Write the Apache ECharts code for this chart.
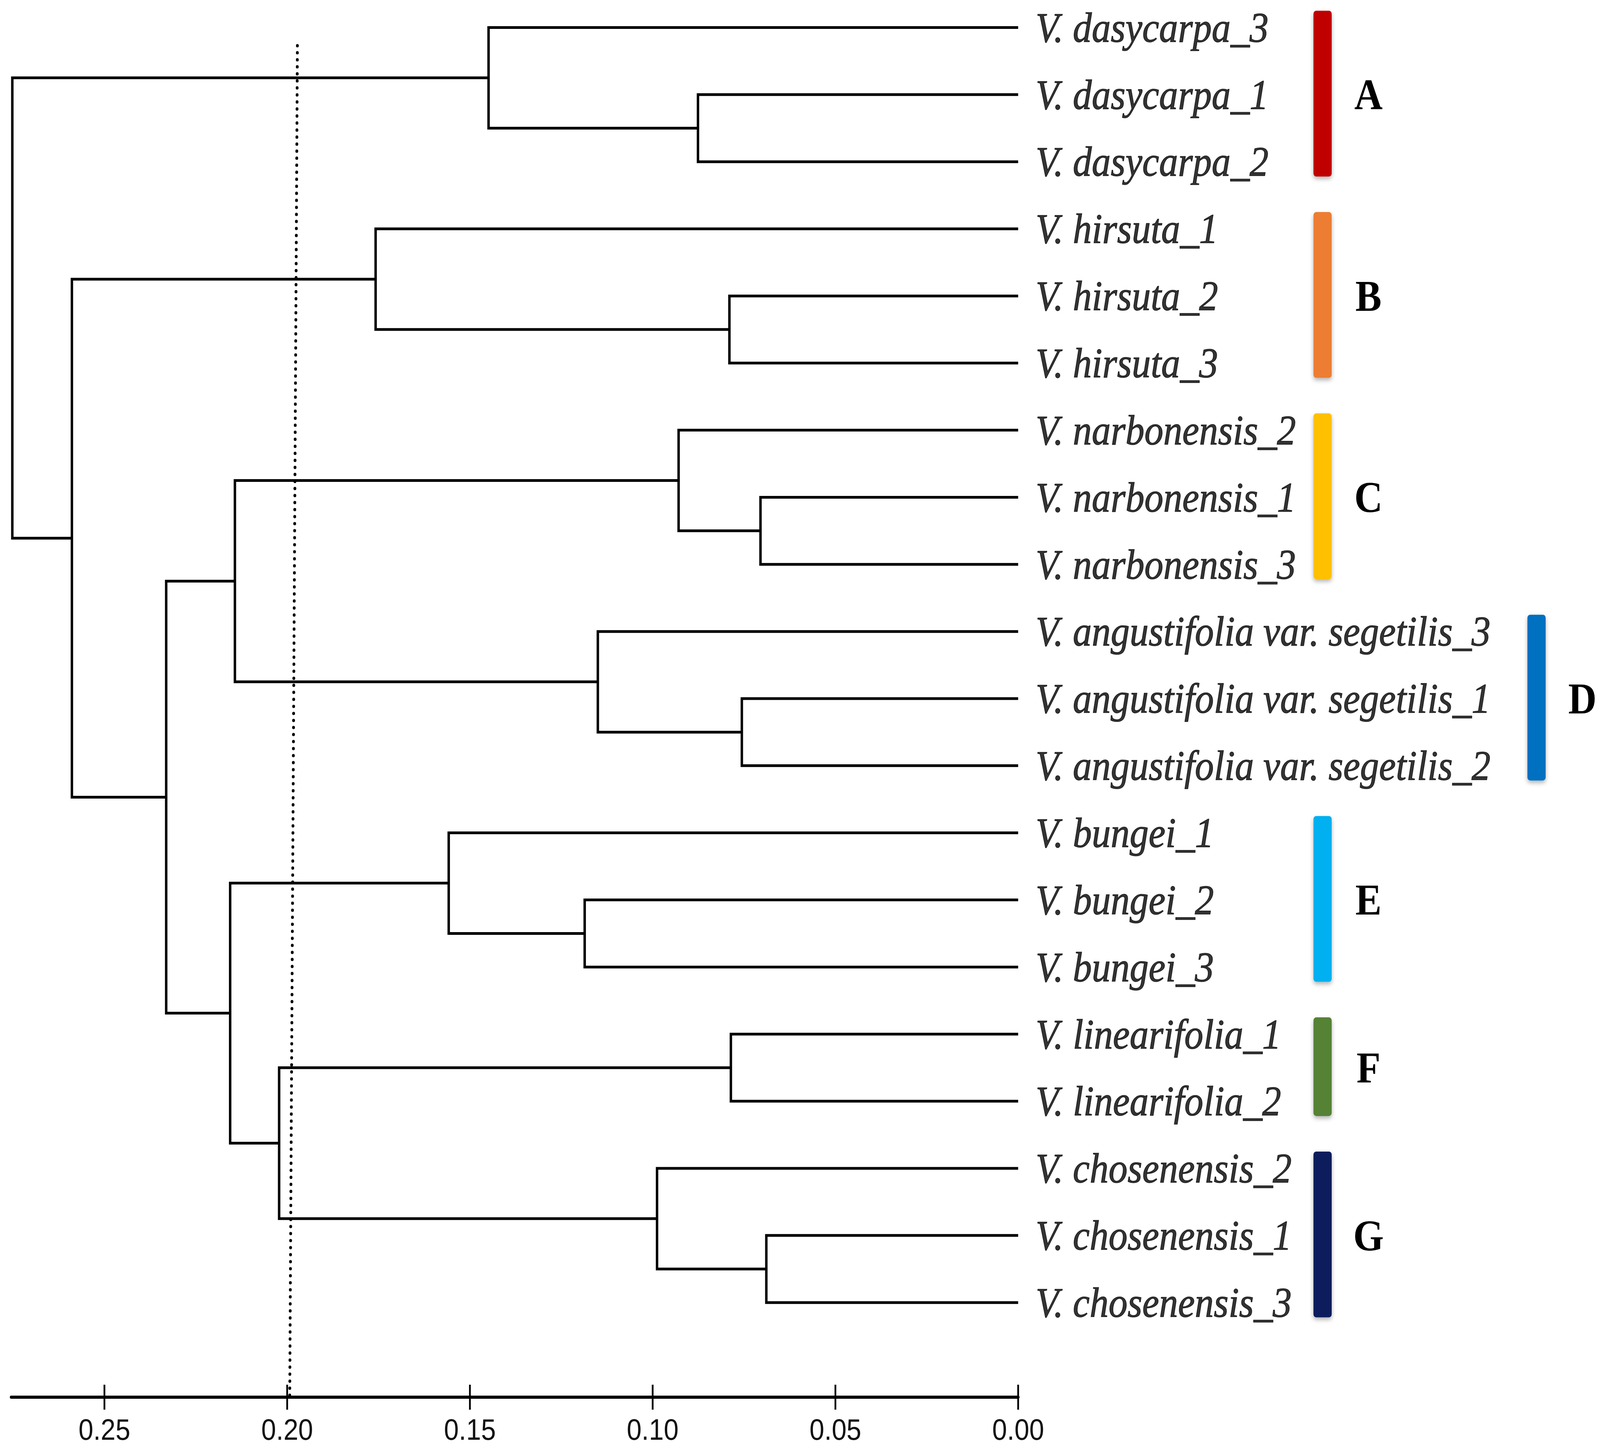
<!DOCTYPE html>
<html>
<head>
<meta charset="utf-8">
<title>Vicia UPGMA dendrogram</title>
<script src="https://cdn.jsdelivr.net/npm/echarts@6.0.0/dist/echarts.min.js"></script>
<style>
    html, body { margin: 0; padding: 0; background: #ffffff; overflow: hidden; }
    #chart { width: 4562px; height: 3703px; transform-origin: 0 0; }
</style>
</head>
<body>
<div id="chart"></div>
<script>
// leaves, top to bottom
var leaves = [
    'V. dasycarpa_3', 'V. dasycarpa_1', 'V. dasycarpa_2',
    'V. hirsuta_1', 'V. hirsuta_2', 'V. hirsuta_3',
    'V. narbonensis_2', 'V. narbonensis_1', 'V. narbonensis_3',
    'V. angustifolia var. segetilis_3', 'V. angustifolia var. segetilis_1', 'V. angustifolia var. segetilis_2',
    'V. bungei_1', 'V. bungei_2', 'V. bungei_3',
    'V. linearifolia_1', 'V. linearifolia_2',
    'V. chosenensis_2', 'V. chosenensis_1', 'V. chosenensis_3'
];

// merges: [child a, child b, height]; index < 20 is a leaf, 20 + k is the k-th merge
var merges = [
    [1, 2, 0.0876],    // 20
    [0, 20, 0.1449],   // 21  A
    [4, 5, 0.0790],    // 22
    [3, 22, 0.1758],   // 23  B
    [7, 8, 0.0705],    // 24
    [6, 24, 0.0929],   // 25  C
    [10, 11, 0.0756],  // 26
    [9, 26, 0.1150],   // 27  D
    [25, 27, 0.2143],  // 28
    [13, 14, 0.1186],  // 29
    [12, 29, 0.1558],  // 30  E
    [15, 16, 0.0786],  // 31  F
    [18, 19, 0.0689],  // 32
    [17, 32, 0.0988],  // 33  G
    [31, 33, 0.2022],  // 34
    [30, 34, 0.2156],  // 35
    [28, 35, 0.2331],  // 36
    [23, 36, 0.2589],  // 37
    [21, 37, 0.2752]   // 38  root
];

var tickValues = [0, 0.05, 0.10, 0.15, 0.20, 0.25];

// dotted cut line, height at top and at bottom (it leans a little)
var cutHeights = [0.1972, 0.1993];

// clusters
var groupNames = ['A', 'B', 'C', 'D', 'E', 'F', 'G'];
var groupFirst = [0, 3, 6, 9, 12, 15, 17];
var groupLast  = [2, 5, 8, 11, 14, 16, 19];

// styles
var groupColors = ['#c00000', '#ed7d31', '#ffc000', '#0070c0', '#00b0f0', '#548235', '#0a1f5c'];
var LINE_W = 7;
var LABEL_SIZE = 108;
var LABEL_FONT = 'italic ' + LABEL_SIZE + 'px "Liberation Serif"';
var LABEL_GAP = 50;
var BAR_COL = 842;      // bar left, from the 0.00 point
var BAR_W = 52;
var Y_MIN = -0.41, Y_MAX = 20.41;

// the layout is made for 4562 x 3703; squeeze it into whatever window we get
var el = document.getElementById('chart');
var kx = window.innerWidth / 4562, ky = window.innerHeight / 3703;
el.style.transform = 'scale(' + kx + ',' + ky + ')';

// build branch polylines from the merge table
var nodeY = leaves.map(function (d, i) { return i; });
var nodeH = leaves.map(function () { return 0; });
var branches = [];
merges.forEach(function (m) {
    var a = m[0], b = m[1], h = m[2];
    branches.push({
        coords: [[nodeH[a], nodeY[a]], [h, nodeY[a]], [h, nodeY[b]], [nodeH[b], nodeY[b]]]
    });
    nodeY.push((nodeY[a] + nodeY[b]) / 2);
    nodeH.push(h);
});

var ctx = document.createElement('canvas').getContext('2d');
ctx.font = LABEL_FONT;
function labelWidth(i) { return ctx.measureText(leaves[i]).width; }

var chart = echarts.init(el, null, { renderer: 'svg' });

var option = {
    backgroundColor: '#ffffff',
    animation: false,
    grid: { left: 32, right: 1659, top: 0, bottom: 125, containLabel: false, outerBoundsMode: 'none' },
    xAxis: {
        type: 'value', min: 0, max: 0.2755, inverse: true, position: 'bottom',
        axisLine: { show: true, onZero: false, lineStyle: { color: '#000', width: 8 } },
        axisTick: { show: false },
        axisLabel: {
            show: true, margin: 45, fontSize: 76, color: '#111',
            fontFamily: '"Liberation Sans", Arial, sans-serif',
            customValues: tickValues,
            formatter: function (v) { return v.toFixed(2); }
        },
        splitLine: { show: false }
    },
    yAxis: { type: 'value', min: Y_MIN, max: Y_MAX, inverse: true, show: false },
    series: [
        {
            type: 'lines',
            coordinateSystem: 'cartesian2d',
            polyline: true,
            silent: true,
            lineStyle: { color: '#000', width: LINE_W, opacity: 1, join: 'miter', cap: 'butt' },
            data: branches
        },
        {
            type: 'line',
            silent: true,
            showSymbol: false,
            lineStyle: { color: '#000', width: 8, type: [0.5, 17.5], cap: 'round' },
            data: [[cutHeights[0], 0.27], [cutHeights[1], Y_MAX]]
        },
        {
            // axis ticks crossing the axis line, one per tick value
            type: 'custom',
            clip: false,
            silent: true,
            z: 5,
            data: tickValues.map(function (v) { return [v, Y_MAX]; }),
            renderItem: function (params, api) {
                var p = api.coord([api.value(0), api.value(1)]);
                return {
                    type: 'line',
                    shape: { x1: p[0], y1: p[1] - 32, x2: p[0], y2: p[1] + 32 },
                    style: { stroke: '#000', lineWidth: 5 }
                };
            }
        },
        {
            type: 'scatter',
            symbolSize: 0,
            clip: false,
            silent: true,
            data: leaves.map(function (name, i) { return { name: name, value: [0, i] }; }),
            label: {
                show: true, position: 'right', distance: LABEL_GAP,
                formatter: '{b}', color: '#000',
                textBorderColor: '#000', textBorderWidth: 1.5,
                fontFamily: '"Liberation Serif", serif', fontStyle: 'italic', fontSize: LABEL_SIZE
            }
        },
        {
            type: 'custom',
            clip: false,
            silent: true,
            data: groupFirst.map(function (f, i) { return [0, f, groupLast[i]]; }),
            encode: { x: 0, y: 1 },
            renderItem: function (params, api) {
                var g = params.dataIndex;
                var x0 = api.coord([0, 0])[0];
                var widest = 0;
                for (var i = groupFirst[g]; i <= groupLast[g]; i++) widest = Math.max(widest, labelWidth(i));
                // labels that run past the common column push their bar further out
                var left = x0 + BAR_COL;
                if (LABEL_GAP + widest > BAR_COL) left = x0 + LABEL_GAP + widest + 105;
                var y1 = api.coord([0, groupFirst[g] - 0.25])[1];
                var y2 = api.coord([0, groupLast[g] + 0.22])[1];
                var ym = api.coord([0, (groupFirst[g] + groupLast[g]) / 2])[1];
                return {
                    type: 'group',
                    children: [
                        {
                            type: 'rect',
                            shape: { x: left, y: y1, width: BAR_W, height: y2 - y1, r: 8 },
                            style: { fill: groupColors[g], shadowBlur: 12, shadowOffsetY: 6, shadowColor: 'rgba(0,0,0,0.3)' }
                        },
                        {
                            type: 'text',
                            style: {
                                text: groupNames[g], x: left + BAR_W + 105, y: ym,
                                align: 'center', verticalAlign: 'middle',
                                fontSize: 112, fontWeight: 'bold', fontFamily: '"Liberation Serif", serif', fill: '#000'
                            }
                        }
                    ]
                };
            }
        }
    ]
};
chart.setOption(option);
</script>
</body>
</html>
